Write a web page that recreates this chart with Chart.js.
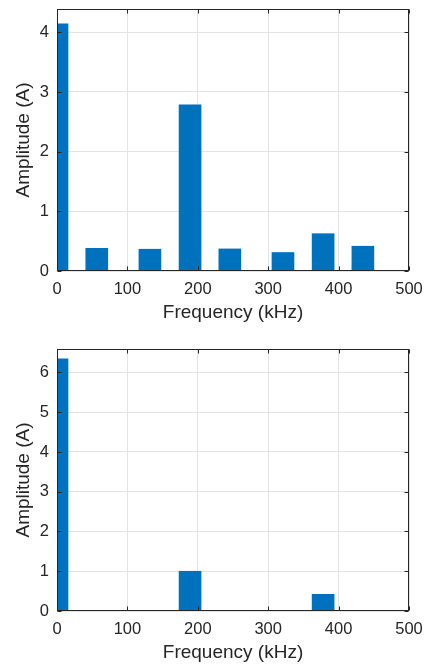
<!DOCTYPE html>
<html><head><meta charset="utf-8">
<script src="https://cdn.jsdelivr.net/npm/chart.js@4"></script>
<style>
html,body{margin:0;padding:0;background:#fff;width:425px;height:665px;overflow:hidden}
.wrap{position:absolute;left:0;width:425px}
</style></head><body>
<div class="wrap" style="top:0;height:330px"><canvas id="c1"></canvas></div>
<div class="wrap" style="top:330px;height:335px"><canvas id="c2"></canvas></div>
<script>
// ---- data ----
const freqTop = [0, 56.5, 132, 189, 245.5, 321, 378, 434.5];
const ampTop = [4.14, 0.38, 0.365, 2.785, 0.37, 0.31, 0.625, 0.415];
const freqBottom = [0, 189, 378];
const ampBottom = [6.34, 1.0, 0.42];
const xTickValues = [0, 100, 200, 300, 400, 500];
const yTicksTop = [0, 1, 2, 3, 4];
const yTicksBottom = [0, 1, 2, 3, 4, 5, 6];
const xLabel = 'Frequency (kHz)';
const yLabel = 'Amplitude (A)';

const FONT = '"Liberation Sans", Arial, Helvetica, sans-serif';
const INK = '#262626';
const GRID = '#e3e3e3';
const BAR = '#0072BD';

const framePlugin = {
  id: 'frame',
  afterDraw(chart) {
    const {ctx, chartArea: a, scales: {x, y}} = chart;
    ctx.save();
    ctx.strokeStyle = INK; ctx.lineWidth = 1;
    const L = Math.round(a.left) + 0.5, R = Math.round(a.right) - 0.5;
    const T = Math.round(a.top) + 0.5, B = Math.round(a.bottom) - 0.5;
    ctx.strokeRect(L, T, R - L, B - T);
    const tl = 4;
    ctx.beginPath();
    x.ticks.forEach(t => {
      const px = Math.round(x.getPixelForValue(t.value)) + 0.5;
      ctx.moveTo(px, B); ctx.lineTo(px, B - tl);
      ctx.moveTo(px, T); ctx.lineTo(px, T + tl);
    });
    y.ticks.forEach(t => {
      const py = Math.round(y.getPixelForValue(t.value)) + 0.5;
      ctx.moveTo(L, py); ctx.lineTo(L + tl, py);
      ctx.moveTo(R, py); ctx.lineTo(R - tl, py);
    });
    ctx.stroke();
    ctx.restore();
  }
};

function makeChart(id, freqs, amps, yTicks, yMax, padTop, xHeight, titlePadBottom) {
  new Chart(document.getElementById(id), {
    type: 'bar',
    data: {
      datasets: [{
        data: freqs.map((f, i) => ({x: f, y: amps[i]})),
        backgroundColor: BAR,
        borderWidth: 0,
        barThickness: 22
      }]
    },
    options: {
      responsive: true,
      maintainAspectRatio: false,
      animation: false,
      layout: {padding: {top: padTop, right: 16, left: 0, bottom: 0}},
      plugins: {legend: {display: false}, tooltip: {enabled: false}},
      scales: {
        x: {
          type: 'linear', min: 0, max: 500, offset: false,
          afterFit: s => { s.height = xHeight; s.paddingLeft = 0; s.paddingRight = 0; },
          afterBuildTicks: s => { s.ticks = xTickValues.map(v => ({value: v})); },
          grid: {color: GRID, drawTicks: false, offset: false},
          border: {display: false},
          ticks: {color: INK, font: {family: FONT, size: 16.5}, padding: 9, maxRotation: 0},
          title: {display: true, text: xLabel, color: INK, font: {family: FONT, size: 19},
                  padding: {top: 0, bottom: titlePadBottom}}
        },
        y: {
          min: 0, max: yMax,
          afterFit: s => { s.width = 57; s.paddingTop = 0; s.paddingBottom = 0; },
          afterBuildTicks: s => { s.ticks = yTicks.map(v => ({value: v})); },
          grid: {color: GRID, drawTicks: false},
          border: {display: false},
          ticks: {color: INK, font: {family: FONT, size: 16.5}, padding: 8},
          title: {display: true, text: yLabel, color: INK, font: {family: FONT, size: 19},
                  padding: {top: 12.6, bottom: 0}}
        }
      }
    },
    plugins: [framePlugin]
  });
}

makeChart('c1', freqTop, ampTop, yTicksTop, 4.39, 9, 59, 5.6);
makeChart('c2', freqBottom, ampBottom, yTicksBottom, 6.59, 19, 54, 0.6);
</script>
</body></html>
